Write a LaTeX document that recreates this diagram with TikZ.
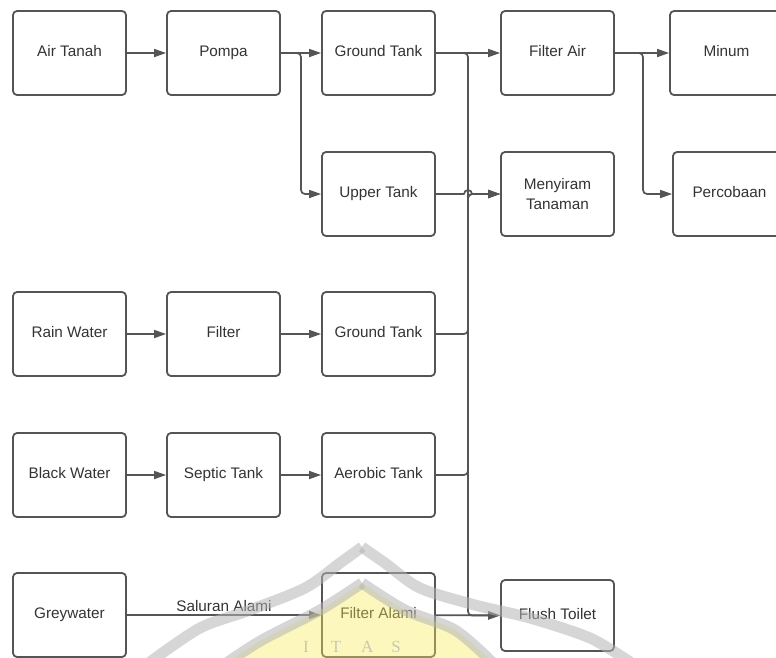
\documentclass[tikz,border=0pt]{standalone}
\usepackage{fontspec}
\setmainfont{Liberation Sans}
\newfontfamily\wmfont{Liberation Serif}
\usetikzlibrary{arrows.meta}
\definecolor{ln}{HTML}{555555}
\definecolor{txt}{HTML}{333333}
\definecolor{wmgrey}{HTML}{B4B4B4}
\definecolor{wmyellow}{HTML}{F6EA5A}
\begin{document}
\begin{tikzpicture}[x=1pt, y=-1pt, line join=round, line cap=round, >={Triangle[length=12pt,width=8pt]},
  base/.style={draw=ln, line width=1.8pt, rounded corners=4pt, minimum width=113pt, minimum height=84pt,
    inner sep=0pt, align=center, text=txt, font=\fontsize{15.3}{20}\selectfont},
  box/.style={base, text height=11pt, text depth=3.5pt},
  flow/.style={->, draw=ln, line width=1.7pt, rounded corners=4pt},
  wm/.style={draw=wmgrey, line width=11pt, opacity=0.55, line cap=butt}]
\useasboundingbox (0,0) rectangle (776,657);
\node[box] (air) at (69.5,53) {Air Tanah};
\node[box] (pompa) at (223.5,53) {Pompa};
\node[box] (gt) at (378.5,53) {Ground Tank};
\node[box] (fair) at (557.5,53) {Filter Air};
\node[box] (minum) at (726.5,53) {Minum};
\node[box] (upper) at (378.5,194) {Upper Tank};
\node[base] (siram) at (557.5,194) {Menyiram\\Tanaman};
\node[box] (coba) at (729.5,194) {Percobaan};
\node[box] (rain) at (69.5,334) {Rain Water};
\node[box] (filter) at (223.5,334) {Filter};
\node[box] (gtr) at (378.5,334) {Ground Tank};
\node[box] (black) at (69.5,475) {Black Water};
\node[box] (septic) at (223.5,475) {Septic Tank};
\node[box] (aerob) at (378.5,475) {Aerobic Tank};
\node[box] (grey) at (69.5,615) {Greywater};
\node[box] (falami) at (378.5,615) {Filter Alami};
\node[box, minimum height=71pt] (flush) at (557.5,615.5) {Flush Toilet};
\coordinate (j1) at (301,0);
\coordinate (j2) at (468,0);
\coordinate (j3) at (643,0);
\draw[flow] (air) -- (pompa);
\draw[flow] (pompa) -- (gt);
\draw[flow] (pompa.east) -- (j1 |- pompa.east) |- (upper.west);
\draw[flow] (gt) -- (fair);
\draw[flow] (gt.east) -- (j2 |- gt.east) |- (flush.west);
\draw[flow] (gtr.east) -| (j2 |- siram.west) -- (siram.west);
\draw[flow] (aerob.east) -| (j2 |- siram.west) -- (siram.west);
\draw[flow, sharp corners] (upper.east) -- ([xshift=-4pt]j2 |- upper.east) arc (180:0:4pt) -- (siram.west);
\draw[flow] (fair) -- (minum);
\draw[flow] (fair.east) -- (j3 |- fair.east) |- (coba.west);
\draw[flow] (rain) -- (filter);
\draw[flow] (filter) -- (gtr);
\draw[flow] (black) -- (septic);
\draw[flow] (septic) -- (aerob);
\draw[flow] (grey) -- node[above, text=txt, font=\fontsize{15.3}{18}\selectfont, inner sep=3pt] (saluran) {Saluran Alami} (falami);
\draw[flow] (falami) -- (flush);
\fill[wmyellow, opacity=0.4] plot[smooth] coordinates {(228,662) (262,640) (320,610) (362,583)}
  -- plot[smooth] coordinates {(362,583) (405,610) (455,630) (492,662)} -- cycle;
\draw[wm] plot[smooth] coordinates {(150,662) (200,628) (250,610) (305,588) (340,563) (362,547)};
\draw[wm] plot[smooth] coordinates {(362,547) (385,563) (420,588) (475,605) (530,618) (590,638) (630,662)};
\draw[wm] plot[smooth] coordinates {(228,662) (262,640) (320,610) (362,583)};
\draw[wm] plot[smooth] coordinates {(362,583) (405,610) (455,630) (492,662)};
\node[anchor=base, text=wmgrey, opacity=0.7, font=\wmfont\fontsize{17}{17}\selectfont] (wmtext) at (352,652)
  {I\hspace{22pt}T\hspace{20pt}A\hspace{18pt}S};
\end{tikzpicture}
\end{document}
